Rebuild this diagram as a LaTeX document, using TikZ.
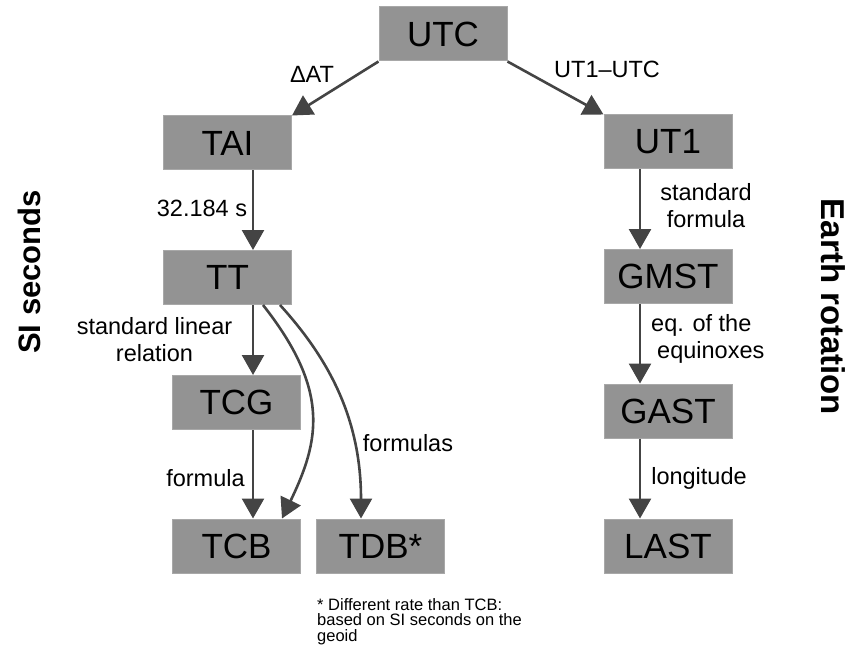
\documentclass[tikz,border=0pt]{standalone}
\usepackage{fontspec}
\setmainfont{Liberation Sans}
\usetikzlibrary{arrows.meta,calc}
\definecolor{boxfill}{HTML}{939393}
\definecolor{boxedge}{HTML}{A8A8A8}
\definecolor{arrowcol}{HTML}{444444}
\begin{document}
\begin{tikzpicture}[x=1pt,y=-1pt,
  box/.style={rectangle, fill=boxfill, draw=boxedge, line width=1pt, minimum width=128pt, minimum height=54pt, inner sep=0pt, font=\fontsize{35}{40}\selectfont},
  conn/.style={draw=arrowcol, line width=2.6pt, -{Triangle[length=20pt,width=22pt]}},
  lbl/.style={font=\fontsize{23.5}{27}\selectfont, inner sep=0pt, align=center},
  side/.style={font=\fontsize{31}{36}\selectfont\bfseries, inner sep=0pt}
]
\useasboundingbox (0,0) rectangle (853,647);
% boxes
\node[box] (utc) at (443,34) {UTC};
\node[box] (tai) at (227.5,143) {TAI};
\node[box] (ut1) at (668,142) {UT1};
\node[box] (tt) at (227.5,277.5) {TT};
\node[box] (tcg) at (236.5,402.5) {TCG};
\node[box] (tcb) at (236.5,546) {TCB};
\node[box] (tdb) at (380.5,546) {TDB*};
\node[box] (gmst) at (668,276.5) {GMST};
\node[box] (gast) at (668,411) {GAST};
\node[box] (last) at (668,546) {LAST};
% x positions of vertical connectors
\coordinate (lx) at (253,0);
\coordinate (rx) at (640,0);
\coordinate (c1) at (263,0);
\coordinate (c2) at (282,0);
\coordinate (c3) at (280,0);
\coordinate (c4) at (361,0);
% connectors
\draw[conn] (utc.south west) -- (tai.north east);
\draw[conn] (utc.south east) -- (ut1.north west);
\draw[conn] (tai.south -| lx) -- (tt.north -| lx);
\draw[conn] (tt.south -| lx) -- (tcg.north -| lx);
\draw[conn] (tcg.south -| lx) -- (tcb.north -| lx);
\draw[conn] (tt.south -| c1) .. controls (330,390) and (320,440) .. (tcb.north -| c2);
\draw[conn] (tt.south -| c3) .. controls (330,360) and (361,420) .. (tdb.north -| c4);
\draw[conn] (ut1.south -| rx) -- (gmst.north -| rx);
\draw[conn] (gmst.south -| rx) -- (gast.north -| rx);
\draw[conn] (gast.south -| rx) -- (last.north -| rx);
% labels
\node[lbl] (ldat) at (312,74) {ΔAT};
\node[lbl, anchor=west] (lut) at (554,69) {UT1–UTC};
\node[lbl] (l32) at (202,208) {32.184 s};
\node[lbl] (lsl) at (154.5,340) {standard linear\\relation};
\node[lbl] (lf) at (205.5,478) {formula};
\node[lbl] (lfs) at (408,443) {formulas};
\node[lbl] (lsf) at (706,206) {standard\\formula};
\node[lbl, align=left, anchor=west] (leq) at (651,339) {eq. of the\\\hspace*{6pt}equinoxes};
\node[lbl] (llon) at (699,478) {longitude};
\node[font=\fontsize{16.5}{15.5}\selectfont, inner sep=0pt, align=left, anchor=north west] (note) at (317,598) {* Different rate than TCB:\\based on SI seconds on the\\geoid};
% side titles
\node[side, rotate=90] (si) at (29,272) {SI seconds};
\node[side, rotate=-90, font=\fontsize{33}{38}\selectfont\bfseries] (er) at (833,307) {Earth rotation};
\end{tikzpicture}
\end{document}
